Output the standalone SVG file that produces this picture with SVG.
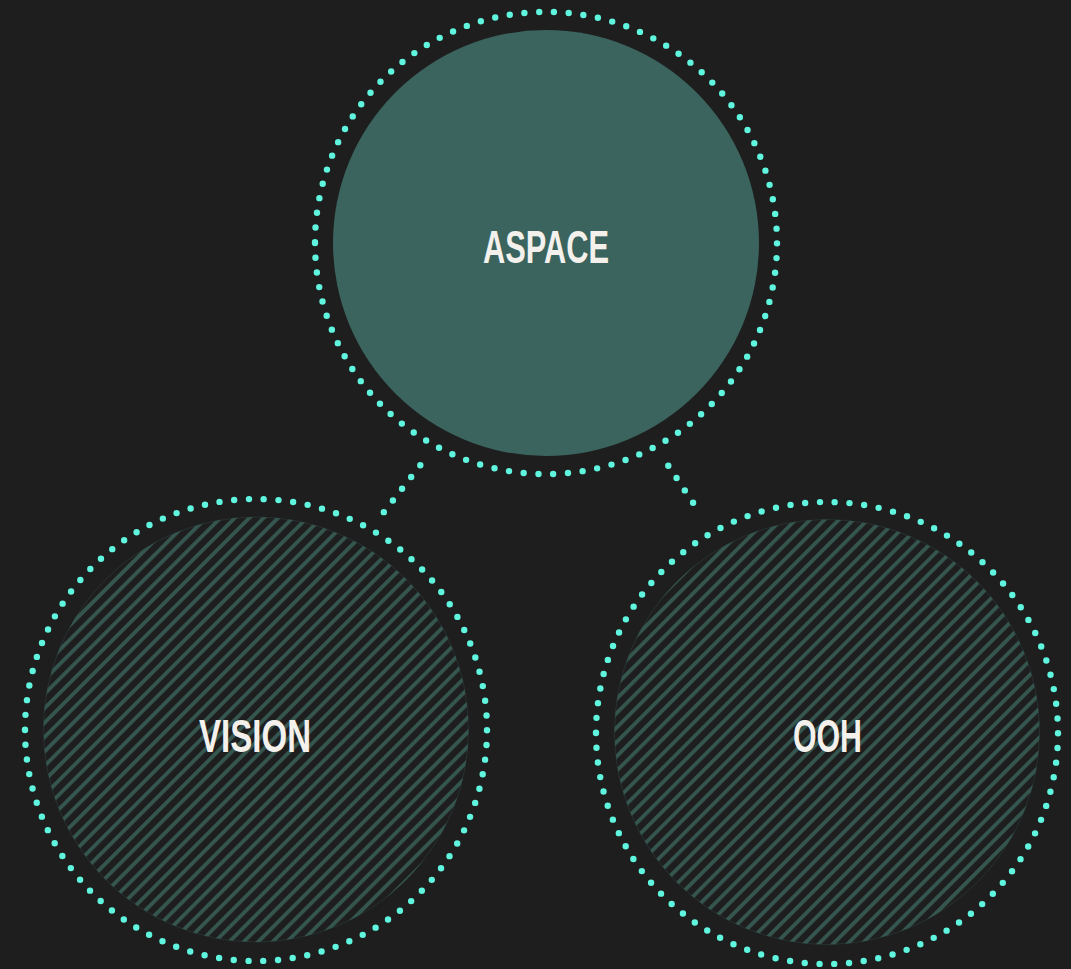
<svg xmlns="http://www.w3.org/2000/svg" width="1071" height="969" viewBox="0 0 1071 969">
  <defs>
    <!-- diagonal hatch used inside the secondary circles -->
    <pattern id="hatch" width="10.2" height="10.2" patternUnits="userSpaceOnUse" patternTransform="rotate(45)">
      <rect x="0" y="0" width="3.8" height="10.2" fill="#35554f"/>
    </pattern>
    <style>
      .bg { fill: #1e1e1e; }
      .ring { fill: none; stroke: #5ff5de; stroke-width: 6.4; stroke-linecap: round; stroke-dasharray: 0 14.8; }
      .link { fill: none; stroke: #5ff5de; stroke-width: 6.4; stroke-linecap: round; stroke-dasharray: 0 14.85; }
      .core { fill: #3a645d; }
      .hatched { fill: url(#hatch); stroke: #35554f; stroke-opacity: 0.35; stroke-width: 1; }
      .label { font-family: "Liberation Sans", Arial, sans-serif; font-weight: 700; font-size: 46px; fill: #f4f1ed; text-anchor: middle; }
    </style>
  </defs>

  <rect class="bg" x="0" y="0" width="1071" height="969"/>

  <!-- dotted links between the main circle and the two secondary circles -->
  <g id="connectors">
    <path class="link" d="M420.3,465.3 L383.7,512.3"/>
    <path class="link" d="M668.3,465.7 L701.3,515"/>
  </g>

  <g id="node-aspace">
    <path class="ring" d="M315,243 a231,231 0 1,0 462,0 a231,231 0 1,0 -462,0"/>
    <circle class="core" cx="546" cy="243" r="213"/>
    <text class="label" x="546" y="263.3" textLength="126" lengthAdjust="spacingAndGlyphs">ASPACE</text>
  </g>

  <g id="node-vision">
    <path class="ring" d="M25,730 a231,231 0 1,0 462,0 a231,231 0 1,0 -462,0"/>
    <circle class="hatched" cx="256" cy="729.5" r="212.5"/>
    <text class="label" x="255" y="751.7" textLength="112" lengthAdjust="spacingAndGlyphs">VISION</text>
  </g>

  <g id="node-ooh">
    <path class="ring" d="M596,733 a231,231 0 1,0 462,0 a231,231 0 1,0 -462,0"/>
    <circle class="hatched" cx="827" cy="732" r="212.5"/>
    <text class="label" x="827.5" y="751.7" textLength="69" lengthAdjust="spacingAndGlyphs">OOH</text>
  </g>
</svg>
